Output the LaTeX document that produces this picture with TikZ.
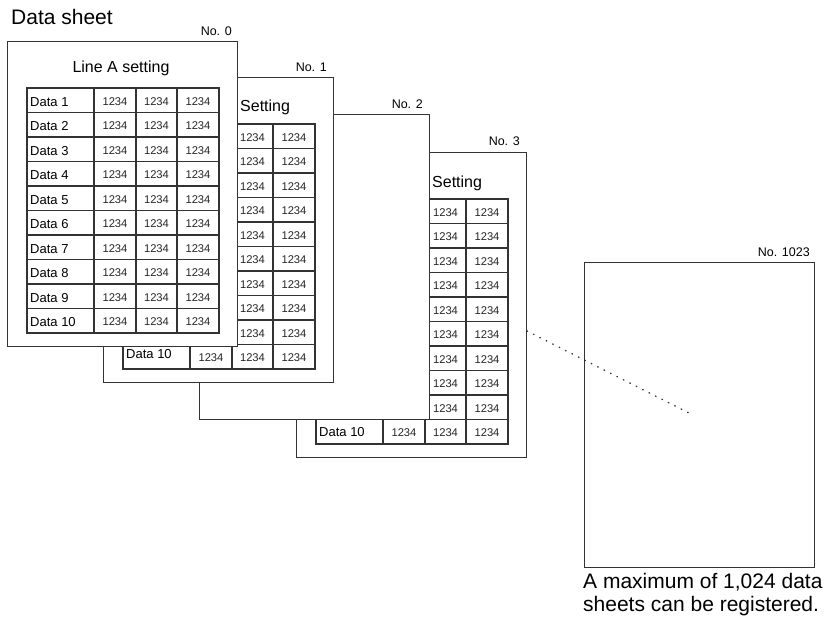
\documentclass[tikz,border=0pt]{standalone}
\usepackage{fontspec}
\setmainfont{Liberation Sans}
\newcommand\mydatagrid{%
  \draw[gridline] (27,88) rectangle (219,333);
  \foreach \x in {94,136,177} \draw[gridline] (\x,88) -- (\x,333);
  \foreach \k in {1,...,9} \draw[gridline] (27,{88+24.5*\k}) -- (219,{88+24.5*\k});
}
\begin{document}
\begin{tikzpicture}[x=1pt,y=-1pt,
  sheet/.style={draw=black!80, line width=1.2pt, fill=white, minimum width=230pt, minimum height=305pt, inner sep=0pt, anchor=north west},
  gridline/.style={draw=black!80, line width=1.1pt},
  num/.style={font=\fontsize{11.2}{12}\selectfont, inner sep=0pt, anchor=base, text=black!85},
  lab/.style={font=\fontsize{13}{14}\selectfont, inner sep=0pt, anchor=base west},
  nolab/.style={font=\fontsize{12.5}{13}\selectfont, inner sep=0pt, anchor=base east},
  titletext/.style={font=\fontsize{16}{17}\selectfont, inner sep=0pt},
  bigtext/.style={font=\fontsize{21}{22}\selectfont, inner sep=0pt, anchor=base west},
  dotline/.style={draw=black!80, line width=1.4pt, line cap=round, dash pattern=on 0.6pt off 6.6pt}]
\useasboundingbox (0,0) rectangle (828,621);

\node[bigtext] (title) at (11,24) {Data sheet};

% sheet No. 1023
\begin{scope}[shift={(577,221)}]
  \node[sheet] (s1023) at (7,41) {};
\end{scope}
\node[nolab] (n1023) at (810,256) {No. 1023};

% sheet No. 3
\begin{scope}[shift={(289,111)}]
  \node[sheet] (s3) at (7,41) {};
  \mydatagrid
  \node[titletext, anchor=base west] (t3) at (143,76) {Setting};
  \foreach \k in {1,...,9} {
    \foreach \c/\cx in {2/156.5,3/198}
      \node[num] (v3-\k-\c) at (\cx,{88+24.5*(\k-1)+17}) {1234};
  }
  \node[lab] (a3-10) at (30,{88+24.5*9+17}) {Data 10};
  \foreach \c/\cx in {1/115,2/156.5,3/198}
    \node[num] (v3-10-\c) at (\cx,{88+24.5*9+17}) {1234};
\end{scope}
\node[nolab] (n3) at (520,145) {No. 3};

% sheet No. 2
\begin{scope}[shift={(192,73)}]
  \node[sheet] (s2) at (7,41) {};
\end{scope}
\node[nolab] (n2) at (423,108) {No. 2};

% sheet No. 1
\begin{scope}[shift={(96,36)}]
  \node[sheet] (s1) at (7,41) {};
  \mydatagrid
  \node[titletext, anchor=base west] (t1) at (144,75) {Setting};
  \foreach \k in {1,...,9} {
    \foreach \c/\cx in {2/156.5,3/198}
      \node[num] (v1-\k-\c) at (\cx,{88+24.5*(\k-1)+17}) {1234};
  }
  \node[lab] (a1-10) at (30,{88+24.5*9+14}) {Data 10};
  \foreach \c/\cx in {1/115,2/156.5,3/198}
    \node[num] (v1-10-\c) at (\cx,{88+24.5*9+17}) {1234};
\end{scope}
\node[nolab] (n1) at (327,71) {No. 1};

% sheet No. 0
\node[sheet] (s0) at (7,41) {};
\mydatagrid
\node[titletext, anchor=base] (t0) at (121,72) {Line A setting};
\foreach \k in {1,...,10} {
  \node[lab] (a0-\k) at (30,{88+24.5*(\k-1)+18}) {Data \k};
  \foreach \c/\cx in {1/115,2/156.5,3/198}
    \node[num] (v0-\k-\c) at (\cx,{88+24.5*(\k-1)+17}) {1234};
}
\node[nolab] (n0) at (232,35) {No. 0};

% dotted continuation
\coordinate (d1) at (527,331);
\coordinate (d2) at (691,414);
\draw[dotline] (d1) -- (d2);

% note
\node[bigtext] (note1) at (583,588) {A maximum of 1,024 data};
\node[bigtext] (note2) at (583,611) {sheets can be registered.};
\end{tikzpicture}
\end{document}
